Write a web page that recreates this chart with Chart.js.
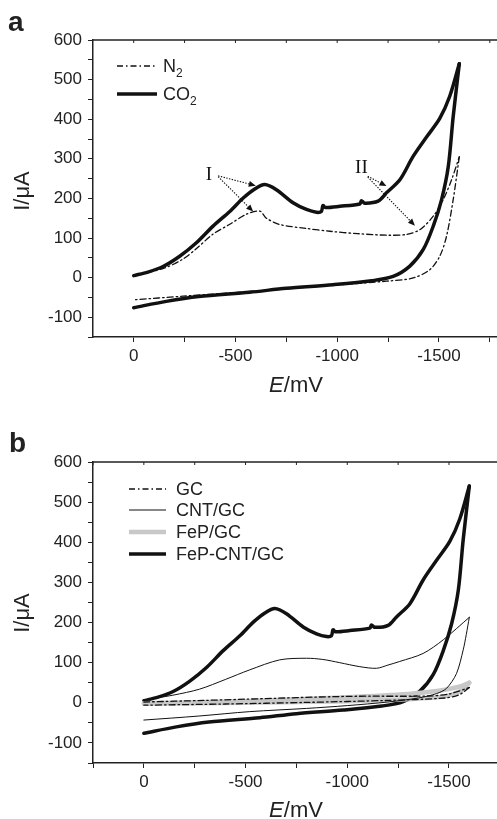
<!DOCTYPE html>
<html lang="en">
<head>
<meta charset="UTF-8">
<title>CV — N2 / CO2 and electrodes</title>
<script src="https://cdn.jsdelivr.net/npm/chart.js"></script>
<style>
  html, body { margin: 0; padding: 0; background: #fff; overflow: hidden; width: 497px; height: 819px; }
  body { position: relative; font-family: "Liberation Sans", Arial, sans-serif; color: #222; }
  canvas { position: absolute; left: 0; }
  #chartA { top: 0; }
  #chartB { top: 420px; }
  .panel { position: absolute; font-weight: bold; font-size: 28px; line-height: 28px; }
  .ytitle { position: absolute; width: 80px; height: 26px; line-height: 26px; font-size: 22px; text-align: center; transform: rotate(-90deg); white-space: nowrap; }
  .xtitle { position: absolute; width: 100px; line-height: 22px; font-size: 22px; text-align: center; white-space: nowrap; }
  .row { position: absolute; height: 22px; line-height: 22px; font-size: 18px; display: flex; align-items: center; white-space: nowrap; }
  .row sub { font-size: 12px; vertical-align: -5px; line-height: 0; }
  .row svg { display: block; }
</style>
</head>
<body>
  <canvas id="chartA" width="530" height="410"></canvas>
  <canvas id="chartB" width="530" height="399"></canvas>

  <div class="panel" style="left:8px; top:8px;">a</div>
  <div class="panel" style="left:9px; top:429px;">b</div>

  <div class="ytitle" style="left:-18px; top:178px;">I/μA</div>
  <div class="ytitle" style="left:-18px; top:600px;">I/μA</div>
  <div class="xtitle" style="left:246px; top:374px;"><i>E</i>/mV</div>
  <div class="xtitle" style="left:246px; top:799px;"><i>E</i>/mV</div>

  <!-- legend a -->
  <div class="row" style="left:117px; top:55px;">
    <svg width="40" height="8"><line x1="0" y1="4" x2="40" y2="4" stroke="#111" stroke-width="1.3" stroke-dasharray="6 3 1.5 3"/></svg>
    <span style="margin-left:6px">N<sub>2</sub></span>
  </div>
  <div class="row" style="left:117px; top:83px;">
    <svg width="40" height="8"><line x1="0" y1="4" x2="40" y2="4" stroke="#111" stroke-width="3.5"/></svg>
    <span style="margin-left:6px">CO<sub>2</sub></span>
  </div>

  <!-- legend b -->
  <div class="row" style="left:129px; top:478px;">
    <svg width="37" height="8"><line x1="0" y1="4" x2="37" y2="4" stroke="#111" stroke-width="1.3" stroke-dasharray="6 3 1.5 3"/></svg>
    <span style="margin-left:10px">GC</span>
  </div>
  <div class="row" style="left:129px; top:499px;">
    <svg width="37" height="8"><line x1="0" y1="4" x2="37" y2="4" stroke="#111" stroke-width="1"/></svg>
    <span style="margin-left:10px">CNT/GC</span>
  </div>
  <div class="row" style="left:129px; top:521px;">
    <svg width="37" height="8"><line x1="0" y1="4" x2="37" y2="4" stroke="#c8c8c8" stroke-width="4.5"/></svg>
    <span style="margin-left:10px">FeP/GC</span>
  </div>
  <div class="row" style="left:129px; top:543px;">
    <svg width="37" height="8"><line x1="0" y1="4" x2="37" y2="4" stroke="#111" stroke-width="3.5"/></svg>
    <span style="margin-left:10px">FeP-CNT/GC</span>
  </div>

  <script>
    // ---- axes
    const xTicksA = [-1750, -1500, -1250, -1000, -750, -500, -250, 0];
    const xTicksB = [-1750, -1500, -1250, -1000, -750, -500, -250, 0, 250];
    const xLabels = [0, -500, -1000, -1500];
    const yTicks = [-150, -100, -50, 0, 50, 100, 150, 200, 250, 300, 350, 400, 450, 500, 550, 600];
    const yLabels = [-100, 0, 100, 200, 300, 400, 500, 600];

    // ---- panel a: CO2 saturated (forward / reverse branch), E in mV, I in uA
    const co2UpE = [0, -70, -144, -226, -308, -390, -472, -538, -595, -644, -701, -783, -849, -898, -922, -930, -942, -1013, -1111, -1119, -1135, -1201, -1242, -1308, -1373, -1439, -1504, -1553, -1600];
    const co2UpI = [5, 14, 28, 54, 88, 130, 167, 201, 224, 235, 222, 189, 172, 165, 167, 182, 177, 180, 186, 194, 188, 193, 214, 247, 306, 355, 402, 458, 540];
    const co2DownE = [-1600, -1570, -1546, -1513, -1472, -1423, -1357, -1275, -1170, -980, -750, -570, -320, -160, 0];
    const co2DownI = [540, 407, 281, 197, 130, 71, 29, 3, -8, -18, -27, -37, -48, -60, -76];

    // N2 saturated
    const n2UpE = [0, -150, -240, -310, -390, -470, -554, -620, -652, -718, -850, -964, -1100, -1250, -1340, -1406, -1472, -1521, -1562, -1600];
    const n2UpI = [4, 24, 46, 74, 110, 134, 160, 168, 150, 134, 124, 117, 111, 107, 109, 121, 155, 197, 247, 305];
    const n2DownE = [-1600, -1570, -1537, -1504, -1455, -1373, -1242, -980, -570, -243, 0];
    const n2DownI = [305, 197, 104, 54, 20, -1, -9, -19, -35, -47, -56];

    // ---- panel b: electrodes
    const gcUpE = [0, -300, -500, -1000, -1400, -1500, -1600];
    const gcUpI = [2, 6, 9, 16, 17, 22, 38];
    const gcDownE = [-1600, -1550, -1480, -1200, -800, -400, 0];
    const gcDownI = [38, 20, 12, 6, 1, -3, -6];

    const cntUpE = [0, -143, -274, -400, -520, -668, -799, -880, -963, -1062, -1144, -1200, -1258, -1373, -1472, -1600];
    const cntUpI = [7, 19, 34, 58, 82, 107, 111, 108, 100, 90, 86, 94, 103, 123, 157, 213];
    const cntDownE = [-1600, -1585, -1570, -1537, -1488, -1439, -1350, -1200, -1000, -800, -520, -270, 0];
    const cntDownI = [213, 170, 132, 73, 36, 23, 12, 2, -7, -14, -22, -33, -43];

    const fepUpE = [0, -500, -1000, -1300, -1450, -1550, -1600];
    const fepUpI = [-1, 4, 14, 22, 30, 40, 50];
    const fepDownE = [-1600, -1560, -1480, -1300, -1000, -500, 0];
    const fepDownI = [50, 30, 16, 9, 4, 0, -2];

    // FeP-CNT/GC in CO2 is the same voltammogram as panel a
    const fepCntUpE = co2UpE, fepCntUpI = co2UpI;
    const fepCntDownE = co2DownE, fepCntDownI = co2DownI;

    // peak markers I and II (labels + dotted arrows), data units
    const noteText = ['I', 'II'];
    const noteE = [-370, -1119];
    const noteI = [260, 277];
    const arrowFromE = [-415, -415, -1150, -1150];
    const arrowFromI = [257, 255, 256, 254];
    const arrowToE = [-600, -587, -1242, -1382];
    const arrowToI = [232, 167, 231, 131];

    Chart.defaults.font.family = '"Liberation Sans", Arial, sans-serif';
    Chart.defaults.font.size = 17;
    Chart.defaults.color = '#222';

    const pts = (xs, ys) => xs.map((x, i) => ({ x, y: ys[i] }));

    const dashDot = { borderColor: '#111', borderWidth: 1.3, borderDash: [6, 3, 1.5, 3] };
    const thick = { borderColor: '#111', borderWidth: 3.5 };
    const thin = { borderColor: '#111', borderWidth: 1 };
    const grey = { borderColor: '#c8c8c8', borderWidth: 4.5 };

    function branch(label, xs, ys, style) {
      return Object.assign({
        label, data: pts(xs, ys), showLine: true, pointRadius: 0,
        tension: 0.3, borderJoinStyle: 'round', borderCapStyle: 'round', fill: false
      }, style);
    }

    // top frame line with small inward ticks
    const framePlugin = {
      id: 'frame',
      afterDraw(chart) {
        const { ctx, chartArea: a, scales: { x } } = chart;
        ctx.save();
        ctx.strokeStyle = '#222';
        ctx.lineWidth = 1.5;
        ctx.beginPath();
        ctx.moveTo(a.left, a.top);
        ctx.lineTo(a.right, a.top);
        ctx.stroke();
        ctx.lineWidth = 1;
        x.ticks.forEach(t => {
          const px = x.getPixelForValue(t.value);
          ctx.beginPath();
          ctx.moveTo(px, a.top);
          ctx.lineTo(px, a.top + 3);
          ctx.stroke();
        });
        ctx.restore();
      }
    };

    const notePlugin = {
      id: 'notes',
      afterDatasetsDraw(chart) {
        const { ctx, scales: { x, y } } = chart;
        ctx.save();
        ctx.fillStyle = '#111';
        ctx.strokeStyle = '#111';
        ctx.font = '19px "Liberation Serif", "Times New Roman", serif';
        ctx.textAlign = 'center';
        ctx.textBaseline = 'middle';
        noteText.forEach((t, i) => ctx.fillText(t, x.getPixelForValue(noteE[i]), y.getPixelForValue(noteI[i])));
        arrowFromE.forEach((e, i) => {
          const x0 = x.getPixelForValue(e), y0 = y.getPixelForValue(arrowFromI[i]);
          const x1 = x.getPixelForValue(arrowToE[i]), y1 = y.getPixelForValue(arrowToI[i]);
          const ang = Math.atan2(y1 - y0, x1 - x0);
          const hl = 7, hw = 3;
          const bx = x1 - hl * Math.cos(ang), by = y1 - hl * Math.sin(ang);
          ctx.lineWidth = 1.1;
          ctx.setLineDash([1.4, 1.4]);
          ctx.beginPath();
          ctx.moveTo(x0, y0);
          ctx.lineTo(bx, by);
          ctx.stroke();
          ctx.setLineDash([]);
          ctx.beginPath();
          ctx.moveTo(x1, y1);
          ctx.lineTo(bx + hw * Math.sin(ang), by - hw * Math.cos(ang));
          ctx.lineTo(bx - hw * Math.sin(ang), by + hw * Math.cos(ang));
          ctx.closePath();
          ctx.fill();
        });
        ctx.restore();
      }
    };

    function cvChart(id, datasets, xMax, xTicks, padTop, padRight, xAxisHeight, plugins) {
      return new Chart(document.getElementById(id), {
        type: 'scatter',
        data: { datasets },
        options: {
          responsive: false,
          animation: false,
          layout: { padding: { top: padTop, right: padRight, left: 0, bottom: 0 } },
          plugins: { legend: { display: false }, tooltip: { enabled: false } },
          scales: {
            x: {
              type: 'linear', reverse: true, min: -1800, max: xMax,
              afterBuildTicks: s => { s.ticks = xTicks.map(v => ({ value: v })); },
              afterFit: s => { s.height = xAxisHeight; },
              border: { display: true, color: '#222', width: 1.5 },
              grid: { drawOnChartArea: false, tickLength: 5, color: '#222' },
              ticks: {
                padding: 4, maxRotation: 0, autoSkip: false,
                callback: v => (xLabels.includes(v) ? String(v) : '')
              }
            },
            y: {
              type: 'linear', min: -150, max: 600,
              afterBuildTicks: s => { s.ticks = yTicks.map(v => ({ value: v })); },
              afterFit: s => { s.width = 93; },
              border: { display: true, color: '#222', width: 1.5 },
              grid: { drawOnChartArea: false, tickLength: 5, color: '#222' },
              ticks: {
                padding: 6, autoSkip: false,
                callback: v => (yLabels.includes(v) ? String(v) : '')
              }
            }
          }
        },
        plugins
      });
    }

    cvChart('chartA', [
      branch('N2', n2UpE, n2UpI, dashDot),
      branch('N2', n2DownE, n2DownI, dashDot),
      branch('CO2', co2UpE, co2UpI, thick),
      branch('CO2', co2DownE, co2DownI, thick)
    ], 200, xTicksA, 40, 30, 73, [framePlugin, notePlugin]);

    cvChart('chartB', [
      branch('GC', gcUpE, gcUpI, dashDot),
      branch('GC', gcDownE, gcDownI, dashDot),
      branch('CNT/GC', cntUpE, cntUpI, thin),
      branch('CNT/GC', cntDownE, cntDownI, thin),
      branch('FeP/GC', fepUpE, fepUpI, grey),
      branch('FeP/GC', fepDownE, fepDownI, grey),
      branch('FeP-CNT/GC', fepCntUpE, fepCntUpI, thick),
      branch('FeP-CNT/GC', fepCntDownE, fepCntDownI, thick)
    ], 250, xTicksB, 42, 20, 56, [framePlugin]);
  </script>
</body>
</html>
